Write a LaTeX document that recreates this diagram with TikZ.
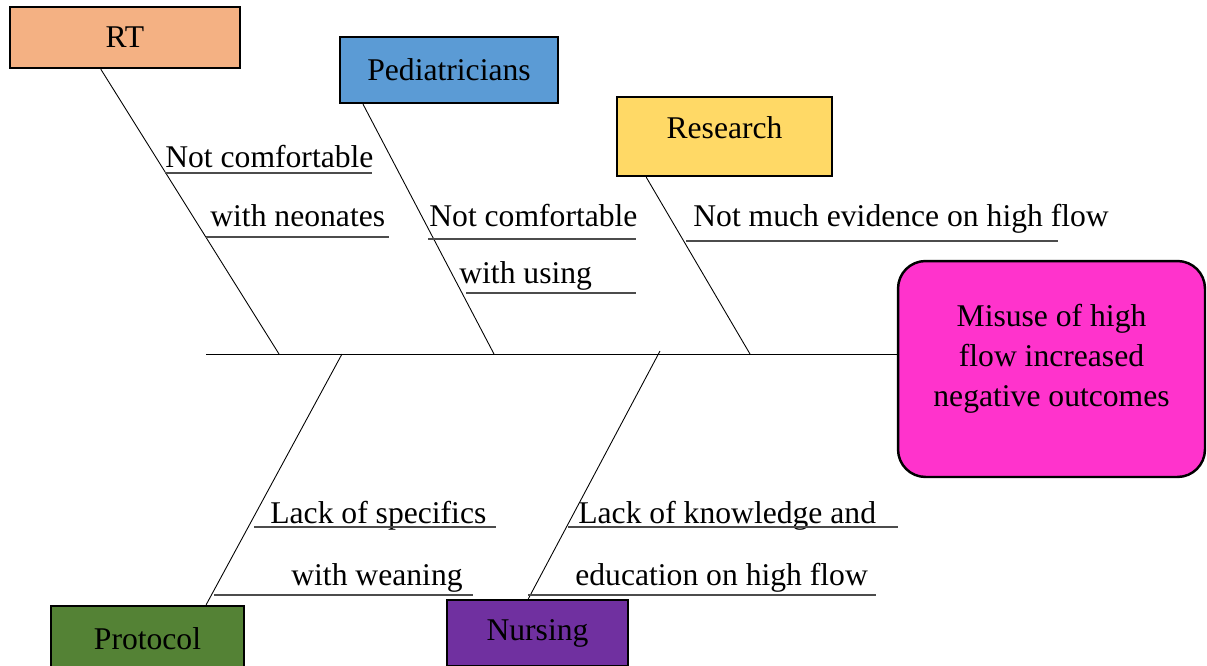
\documentclass[tikz,border=0pt]{standalone}
\usepackage{fontspec}
\setmainfont{Liberation Serif}
\usetikzlibrary{calc}
\definecolor{rtorange}{HTML}{F4B183}
\definecolor{pedblue}{HTML}{5B9BD5}
\definecolor{resyellow}{HTML}{FFD966}
\definecolor{protgreen}{HTML}{548235}
\definecolor{nurspurple}{HTML}{7030A0}
\definecolor{effpink}{HTML}{FF33CC}
\tikzset{
	catbox/.style={draw=black, line width=1.4pt, inner sep=0pt, font=\fontsize{18}{22}\selectfont},
	bone/.style={line width=0.5pt},
	underl/.style={line width=0.8pt, color=black!70},
	causetext/.style={anchor=base west, inner sep=0pt, font=\fontsize{18}{22}\selectfont}
}

\begin{document}
\begin{tikzpicture}[x=0.02cm, y=-0.02cm]
		%%%%% START %%%%%
		\useasboundingbox (0, 0) rectangle (1207, 666);
		\clip (0, 0) rectangle (1207, 666);
		
		\node[catbox, fill=rtorange, minimum width=4.6cm, minimum height=1.22cm] (rt) at (125, 37.5) {RT};
		\node[catbox, fill=pedblue, minimum width=4.36cm, minimum height=1.32cm] (ped) at (449, 70) {Pediatricians};
		\node[catbox, fill=resyellow, minimum width=4.3cm, minimum height=1.58cm, text depth=0.36cm] (res) at (724.5, 136.5) {Research};
		\node[catbox, fill=protgreen, minimum width=3.86cm, minimum height=1.32cm] (prot) at (147.5, 639) {Protocol};
		\node[catbox, fill=nurspurple, minimum width=3.62cm, minimum height=1.32cm] (nurs) at (537.5, 633) {Nursing};
		
		\node[catbox, fill=effpink, rounded corners=0.55cm, minimum width=6.14cm, minimum height=4.32cm, align=center, font=\fontsize{18}{22.8}\selectfont, text depth=16pt] (eff) at (1051.5, 369) {Misuse of high\\flow increased\\negative outcomes};
		
		% spine
		\coordinate (tail) at (206, 354);
		\draw[bone] (tail) -- (tail -| eff.west);
		
		% bones
		\coordinate (rtfoot) at (279, 354);
		\coordinate (pedfoot) at (494, 354);
		\coordinate (resfoot) at (750, 354);
		\coordinate (protfoot) at (342, 354);
		\coordinate (nursfoot) at (660, 351);
		\draw[bone] ($(rt.south west)!0.396!(rt.south east)$) -- (rtfoot);
		\draw[bone] ($(ped.south west)!0.11!(ped.south east)$) -- (pedfoot);
		\draw[bone] ($(res.south west)!0.14!(res.south east)$) -- (resfoot);
		\draw[bone] ($(prot.north west)!0.80!(prot.north east)$) -- (protfoot);
		\draw[bone] ($(nurs.north west)!0.45!(nurs.north east)$) -- (nursfoot);
		
		% causes
		\node[causetext] (rt1) at (165, 167) {Not comfortable};
		\draw[underl] (165, 173) -- (372, 173);
		\node[causetext] (rt2) at (210, 226) {with neonates};
		\draw[underl] (206, 237) -- (389, 237);
		
		\node[causetext] (ped1) at (429, 226) {Not comfortable};
		\draw[underl] (428, 239) -- (636, 239);
		\node[causetext] (ped2) at (459, 283) {with using};
		\draw[underl] (466, 293) -- (636, 293);
		
		\node[causetext] (res1) at (693, 226) {Not much evidence on high flow};
		\draw[underl] (686, 241) -- (1058, 241);
		
		\node[causetext] (prot1) at (270, 523) {Lack of specifics};
		\draw[underl] (254, 527) -- (496, 527);
		\node[causetext] (prot2) at (291, 585) {with weaning};
		\draw[underl] (214, 595) -- (473, 595);
		
		\node[causetext] (nurs1) at (578, 523) {Lack of knowledge and};
		\draw[underl] (568, 527) -- (898, 527);
		\node[causetext] (nurs2) at (575, 585) {education on high flow};
		\draw[underl] (528, 595) -- (876, 595);
		%%%%% END %%%%%
\end{tikzpicture}
\end{document}
